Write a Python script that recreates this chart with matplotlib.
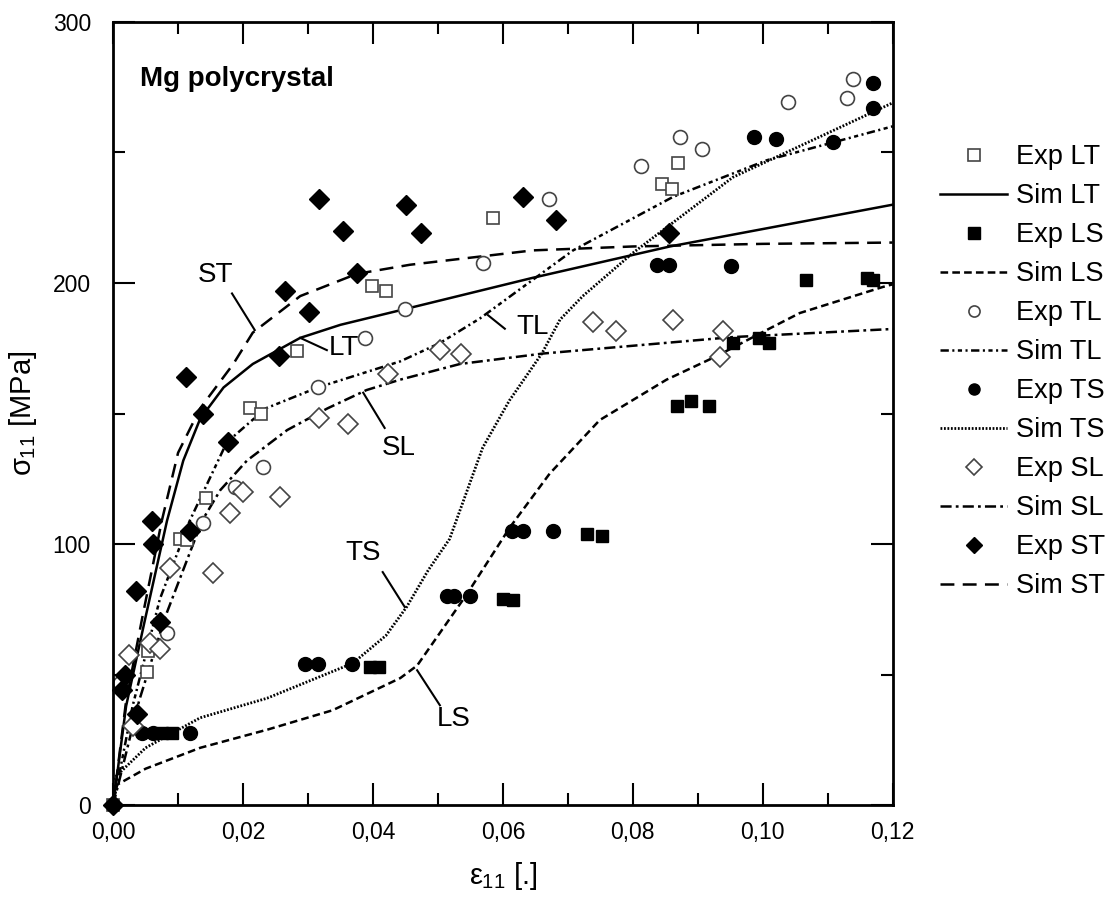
import matplotlib
matplotlib.use('Agg')
import matplotlib.pyplot as plt
from matplotlib.lines import Line2D

plt.rcParams['font.family'] = ['Liberation Sans', 'DejaVu Sans']
plt.rcParams['mathtext.fontset'] = 'custom'
plt.rcParams['mathtext.rm'] = 'Liberation Sans'
plt.rcParams['mathtext.it'] = 'Liberation Sans'
plt.rcParams['lines.scale_dashes'] = False

# experimental points (strain, stress MPa)
lt_x = [0.0, 0.0052, 0.0054, 0.0103, 0.0114, 0.0143, 0.0211, 0.0228, 0.0283, 0.0398, 0.042, 0.0585, 0.0845, 0.0861, 0.087]
lt_y = [0, 51, 59, 102, 101.5, 117.5, 152, 150, 174, 199, 197, 225, 238, 236, 246]

ls_x = [0.0075, 0.009, 0.0395, 0.041, 0.060, 0.0615, 0.0729, 0.0752, 0.0868, 0.089, 0.0918, 0.0954, 0.0995, 0.101, 0.1067, 0.116, 0.117]
ls_y = [27.5, 27.5, 53, 53, 79, 78.5, 104, 103, 153, 155, 153, 177, 179, 177, 201, 202, 201]

tl_x = [0.001, 0.0083, 0.0139, 0.0188, 0.0231, 0.0315, 0.0388, 0.0449, 0.0569, 0.0671, 0.0812, 0.0872, 0.0907, 0.1039, 0.1129, 0.1139]
tl_y = [47, 66, 108, 122, 129.5, 160, 179, 190, 207.5, 232, 245, 256, 251.5, 269.5, 271, 278]

ts_x = [0.0, 0.0045, 0.0062, 0.0118, 0.0295, 0.0315, 0.0368, 0.0514, 0.0525, 0.0549, 0.0614, 0.0631, 0.0677,
        0.0837, 0.0855, 0.0951, 0.0986, 0.102, 0.1108, 0.117, 0.117]
ts_y = [0, 27.5, 27.5, 27.5, 54, 54, 54, 80, 80, 80, 105, 105, 105, 207, 207, 206.5, 256, 255, 254, 267, 276.5]

sl_x = [0.0025, 0.0031, 0.0057, 0.0072, 0.0088, 0.0154, 0.018, 0.02, 0.0257, 0.0317, 0.0362, 0.0423, 0.0503, 0.0535,
        0.0739, 0.0774, 0.0862, 0.0934, 0.0939]
sl_y = [57.5, 30.5, 62, 60, 91, 89, 112, 120, 118, 148.5, 146, 165, 174.5, 173, 185, 181.5, 186, 171.5, 181.5]

st_x = [0.0, 0.0014, 0.0018, 0.0037, 0.0035, 0.0061, 0.006, 0.0072, 0.0112, 0.0118, 0.0138, 0.0177, 0.0255, 0.0265,
        0.0302, 0.0317, 0.0354, 0.0375, 0.0451, 0.0474, 0.0631, 0.0682, 0.0855]
st_y = [0, 44, 50, 35, 82, 100, 109, 70, 164, 105, 150, 139, 172, 197, 189, 232, 220, 204, 230, 219, 233, 224, 219]

# simulated curves
sim_lt_x = [0.0, 0.002, 0.0049, 0.0083, 0.0108, 0.0134, 0.017, 0.0215, 0.0288, 0.035, 0.0449, 0.0646, 0.0857, 0.12]
sim_lt_y = [0, 38, 71, 109, 132, 148, 160, 169, 179, 184, 190, 202, 214, 230]

sim_st_x = [0.0, 0.002, 0.0045, 0.0075, 0.01, 0.0134, 0.0185, 0.0215, 0.0288, 0.0375, 0.0457, 0.0646, 0.08, 0.1, 0.12]
sim_st_y = [0, 40, 72, 109, 135, 152, 169, 181, 195, 203.5, 207, 212.5, 214, 215, 215.5]

sim_tl_x = [0.0, 0.003, 0.0072, 0.0118, 0.0175, 0.0235, 0.0315, 0.0442, 0.0503, 0.0565, 0.0708, 0.0862, 0.1006, 0.12]
sim_tl_y = [0, 38, 79, 109, 139, 152, 160, 170, 177, 186.5, 212.5, 233, 247, 260]

sim_sl_x = [0.0, 0.004, 0.008, 0.0137, 0.0165, 0.0206, 0.0268, 0.033, 0.039, 0.0442, 0.0534, 0.0662, 0.0954, 0.12]
sim_sl_y = [0, 40, 72, 109, 120.7, 132, 143.7, 152, 159, 163, 169, 173, 179.3, 182.4]

sim_ts_x = [0.0, 0.005, 0.0134, 0.0237, 0.0369, 0.042, 0.0452, 0.0485, 0.0518, 0.0569, 0.061, 0.066, 0.0688, 0.0723,
            0.08, 0.0954, 0.12]
sim_ts_y = [10, 22, 33.5, 41, 54.4, 65, 76, 90, 102, 137, 155, 173, 186, 195, 211.5, 240.5, 269]

sim_ls_x = [0.0, 0.005, 0.0134, 0.0238, 0.0338, 0.0442, 0.0468, 0.0545, 0.0611, 0.0672, 0.0749, 0.0852, 0.0929,
            0.1006, 0.1057, 0.1185, 0.12]
sim_ls_y = [7, 14, 22, 29, 36.4, 48.7, 53.5, 81, 106.5, 127, 147.5, 163, 172, 182, 188.5, 198.5, 199.5]

xticks = [0.0, 0.02, 0.04, 0.06, 0.08, 0.10, 0.12]
xtick_labels = ['0,00', '0,02', '0,04', '0,06', '0,08', '0,10', '0,12']
yticks = [0, 100, 200, 300]

fig = plt.figure(figsize=(11.2, 9.13), dpi=100)
ax = fig.add_axes([0.101, 0.118, 0.696, 0.858])

ls_lt = '-'
ls_ls = (0, (5.5, 3))
ls_tl = (0, (6, 2.5, 1.5, 2.5, 3, 2.5, 1.5, 2.5))
ls_ts = (0, (1.3, 1.2))
ls_sl = (0, (8, 3, 2, 3))
ls_st = (0, (10, 6))

lw = 1.8
ax.plot(sim_lt_x, sim_lt_y, color='black', lw=lw, linestyle=ls_lt)
ax.plot(sim_ls_x, sim_ls_y, color='black', lw=lw, linestyle=ls_ls)
ax.plot(sim_tl_x, sim_tl_y, color='black', lw=lw, linestyle=ls_tl)
ax.plot(sim_ts_x, sim_ts_y, color='black', lw=2, linestyle=ls_ts)
ax.plot(sim_sl_x, sim_sl_y, color='black', lw=lw, linestyle=ls_sl)
ax.plot(sim_st_x, sim_st_y, color='black', lw=lw, linestyle=ls_st)

grey = '#444444'
ms = 9
ax.plot(lt_x, lt_y, 's', mfc='white', mec=grey, mew=1.2, ms=ms, ls='none', clip_on=False)
ax.plot(ls_x, ls_y, 's', mfc='black', mec='black', ms=ms, ls='none', clip_on=False)
ax.plot(tl_x, tl_y, 'o', mfc='white', mec=grey, mew=1.2, ms=ms + 1, ls='none', clip_on=False)
ax.plot(ts_x, ts_y, 'o', mfc='black', mec='black', ms=ms + 1, ls='none', clip_on=False)
ax.plot(sl_x, sl_y, 'D', mfc='white', mec=grey, mew=1.2, ms=ms + 1.5, ls='none', clip_on=False)
ax.plot(st_x, st_y, 'D', mfc='black', mec='black', ms=ms + 1.5, ls='none', clip_on=False)

# curve labels with leader lines
fs = 20
labels = [
    ('ST', 0.0157, 203, (0.0183, 196), (0.0218, 182)),
    ('LT', 0.0356, 175, (0.0288, 179), (0.0329, 174.3)),
    ('TL', 0.0645, 183, (0.0577, 187.7), (0.0603, 182.5)),
    ('SL', 0.0440, 137, (0.0385, 158), (0.0418, 144.5)),
    ('TS', 0.0385, 96.5, (0.0415, 89.3), (0.0449, 75.9)),
    ('LS', 0.0525, 33, (0.0468, 51.7), (0.0503, 38.3)),
]
for txt, tx, ty, p1, p2 in labels:
    ax.text(tx, ty, txt, fontsize=fs, ha='center', va='center')
    ax.plot([p1[0], p2[0]], [p1[1], p2[1]], color='black', lw=1.5)

ax.text(0.0042, 278, 'Mg polycrystal', fontsize=20, fontweight='bold', ha='left', va='center')

ax.set_xlim(0, 0.12)
ax.set_ylim(0, 300)
ax.set_xticks(xticks)
ax.set_xticklabels(xtick_labels)
ax.set_yticks(yticks)
ax.set_xticks([0.01, 0.03, 0.05, 0.07, 0.09, 0.11], minor=True)
ax.set_yticks([50, 150, 250], minor=True)
ax.tick_params(which='both', direction='in', top=True, right=True, width=1.5, labelsize=16.5)
ax.tick_params(which='major', length=16)
ax.tick_params(axis='x', which='major', pad=11)
ax.tick_params(axis='y', which='major', pad=16)
ax.tick_params(which='minor', length=8.5)
for s in ax.spines.values():
    s.set_linewidth(2)

ax.set_xlabel(r'$\varepsilon_{11}$ [.]', fontsize=21, labelpad=12)
ax.set_ylabel(r'$\sigma_{11}$ [MPa]', fontsize=21, labelpad=10)

handles = [
    Line2D([], [], marker='s', mfc='white', mec=grey, mew=1.2, ms=ms - 1, ls='none'),
    Line2D([], [], color='black', lw=lw, ls=ls_lt),
    Line2D([], [], marker='s', mfc='black', mec='black', ms=ms - 1, ls='none'),
    Line2D([], [], color='black', lw=lw, ls=ls_ls),
    Line2D([], [], marker='o', mfc='white', mec=grey, mew=1.2, ms=ms - 1, ls='none'),
    Line2D([], [], color='black', lw=lw, ls=ls_tl),
    Line2D([], [], marker='o', mfc='black', mec='black', ms=ms - 1, ls='none'),
    Line2D([], [], color='black', lw=2, ls=ls_ts),
    Line2D([], [], marker='D', mfc='white', mec=grey, mew=1.2, ms=ms - 1, ls='none'),
    Line2D([], [], color='black', lw=lw, ls=ls_sl),
    Line2D([], [], marker='D', mfc='black', mec='black', ms=ms - 1, ls='none'),
    Line2D([], [], color='black', lw=lw, ls=ls_st),
]
names = ['Exp LT', 'Sim LT', 'Exp LS', 'Sim LS', 'Exp TL', 'Sim TL',
         'Exp TS', 'Sim TS', 'Exp SL', 'Sim SL', 'Exp ST', 'Sim ST']
fig.legend(handles, names, loc='upper left', bbox_to_anchor=(0.827, 0.857), frameon=False,
           fontsize=19.5, handlelength=2.5, handletextpad=0.3, labelspacing=0.48, borderpad=0)

fig.savefig('out.png', dpi=100)
